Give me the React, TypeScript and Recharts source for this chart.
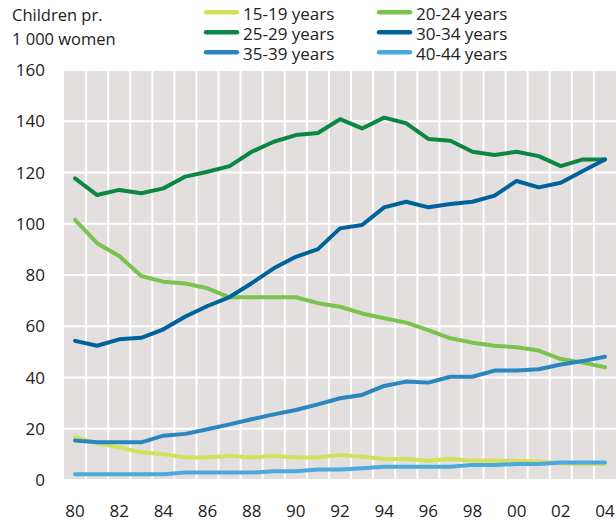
import React from 'react';
import { LineChart, Line, XAxis, YAxis, CartesianGrid, ReferenceLine, Legend } from 'recharts';

const years = [1980, 1981, 1982, 1983, 1984, 1985, 1986, 1987, 1988, 1989, 1990, 1991, 1992, 1993, 1994, 1995, 1996, 1997, 1998, 1999, 2000, 2001, 2002, 2003, 2004];
const xTicks = [1980, 1982, 1984, 1986, 1988, 1990, 1992, 1994, 1996, 1998, 2000, 2002, 2004];
const yTicks = [0, 20, 40, 60, 80, 100, 120, 140, 160];

const age1519 = [16.7, 14.3, 12.8, 10.8, 10.1, 8.8, 8.8, 9.5, 8.8, 9.5, 8.8, 8.8, 9.8, 9.1, 8.2, 8.2, 7.5, 8.2, 7.5, 7.5, 7.5, 7.2, 6.5, 6.2, 6.2];
const age2024 = [101.5, 92.4, 87.4, 79.6, 77.4, 76.7, 74.8, 71.3, 71.3, 71.3, 71.3, 69, 67.6, 65, 63.1, 61.4, 58.5, 55.3, 53.6, 52.4, 51.8, 50.5, 47.2, 45.8, 44];
const age2529 = [117.7, 111.2, 113.2, 111.9, 113.8, 118.4, 120.3, 122.5, 128.1, 132, 134.6, 135.4, 140.8, 137.2, 141.4, 139.2, 133.1, 132.4, 128.1, 126.8, 128.1, 126.4, 122.5, 125.1, 125.1];
const age3034 = [54.3, 52.4, 54.9, 55.5, 58.8, 63.8, 67.9, 71.4, 76.8, 82.6, 87.1, 90.1, 98.2, 99.5, 106.4, 108.6, 106.4, 107.7, 108.6, 111, 116.7, 114.2, 116, 120.6, 125.1];
const age3539 = [15.4, 14.7, 14.7, 14.7, 17.3, 18, 19.8, 21.7, 23.7, 25.6, 27.3, 29.5, 31.9, 33.2, 36.7, 38.4, 38, 40.3, 40.3, 42.7, 42.7, 43.2, 45.1, 46.4, 48.1];
const age4044 = [2.2, 2.2, 2.2, 2.2, 2.2, 2.9, 2.9, 2.9, 2.9, 3.4, 3.4, 4.1, 4.1, 4.6, 5.2, 5.2, 5.2, 5.2, 5.9, 5.9, 6.2, 6.2, 6.8, 6.8, 6.8];

const series = [
  { key: 'a1519', name: '15-19 years', color: '#d5e05a', values: age1519 },
  { key: 'a2024', name: '20-24 years', color: '#7cc24f', values: age2024 },
  { key: 'a2529', name: '25-29 years', color: '#0b8742', values: age2529 },
  { key: 'a3034', name: '30-34 years', color: '#00629b', values: age3034 },
  { key: 'a3539', name: '35-39 years', color: '#2a86bf', values: age3539 },
  { key: 'a4044', name: '40-44 years', color: '#4aa9df', values: age4044 },
];

const data = years.map((year, i) => {
  const row: Record<string, number> = { year };
  series.forEach((s) => { row[s.key] = s.values[i]; });
  return row;
});

const boundaries = years.slice(1).map((y) => y - 0.5);

const TEXT = '#222222';
const FONT = '"Open Sans", sans-serif';

const renderLegend = (props: any) => {
  const payload = props.payload || [];
  return (
    <div style={{ position: 'relative', width: 400, height: 64, fontFamily: FONT }}>
      {payload.map((p: any, i: number) => (
        <div
          key={i}
          style={{
            position: 'absolute',
            left: (i % 2) * 173,
            top: 4 + Math.floor(i / 2) * 20,
            height: 20,
            display: 'flex',
            alignItems: 'flex-start',
            whiteSpace: 'nowrap',
          }}
        >
          <svg width={38} height={20} style={{ display: 'block' }}>
            <line x1={4} y1={8.3} x2={35} y2={8.3} stroke={p.color} strokeWidth={4.5} strokeLinecap="round" />
          </svg>
          <span style={{ display: 'block', height: 20, fontSize: 17, lineHeight: '20px', color: TEXT, marginLeft: 3 }}>{p.value}</span>
        </div>
      ))}
    </div>
  );
};

export default function App() {
  return (
    <div style={{ position: 'absolute', left: 0, top: 0, width: 616, height: 522, fontFamily: FONT, background: '#fff' }}>
      <div style={{ position: 'absolute', left: 12, top: 5, height: 20, fontSize: 16.5, lineHeight: '20px', color: TEXT, whiteSpace: 'nowrap' }}>Children pr.</div>
      <div style={{ position: 'absolute', left: 12, top: 28.5, height: 20, fontSize: 16.5, lineHeight: '20px', color: TEXT, whiteSpace: 'nowrap' }}>1 000 women</div>
      <LineChart width={616} height={522} data={data} margin={{ top: 70, right: 0, bottom: 0, left: 0 }}>
        <CartesianGrid vertical={false} horizontal={true} fill="#e2dfde" stroke="#ffffff" strokeWidth={2} />
        {boundaries.map((b) => (
          <ReferenceLine key={b} x={b} stroke="#ffffff" strokeWidth={2} ifOverflow="hidden" zIndex={-50} />
        ))}
        <XAxis
          dataKey="year"
          type="number"
          domain={[1979.5, 2004.5]}
          ticks={xTicks}
          interval={0}
          tickFormatter={(v: number) => String(v).slice(2)}
          axisLine={false}
          tickLine={false}
          tickSize={0}
          tickMargin={25}
          height={42}
          tick={{ fill: TEXT, fontSize: 17, fontFamily: FONT }}
        />
        <YAxis
          type="number"
          domain={[0, 160]}
          ticks={yTicks}
          interval={0}
          axisLine={false}
          tickLine={false}
          tickSize={0}
          tickMargin={19}
          width={64}
          tick={{ fill: TEXT, fontSize: 17, fontFamily: FONT }}
        />
        <Legend
          layout="horizontal"
          verticalAlign="middle"
          align="center"
          content={renderLegend}
          wrapperStyle={{ left: 202, top: 0, width: 400, height: 64 }}
        />
        {series.map((s) => (
          <Line
            key={s.key}
            dataKey={s.key}
            name={s.name}
            stroke={s.color}
            strokeWidth={4}
            strokeLinecap="round"
            strokeLinejoin="round"
            dot={false}
            activeDot={false}
            type="linear"
            isAnimationActive={false}
          />
        ))}
      </LineChart>
    </div>
  );
}
